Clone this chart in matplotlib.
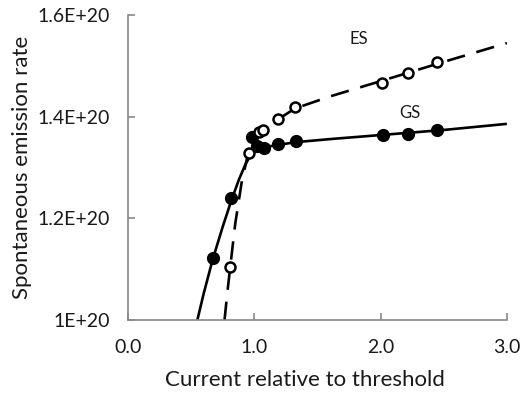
import matplotlib
matplotlib.use("Agg")
import matplotlib.pyplot as plt
from matplotlib.ticker import FixedLocator, FixedFormatter

plt.rcParams['font.family'] = ['Lato', 'DejaVu Sans']

# Data points (x: current relative to threshold, y: rate in units of 1E+20)
gs_x = [0.67, 0.82, 0.98, 1.02, 1.08, 1.19, 1.33, 2.02, 2.22, 2.45]
gs_y = [1.122, 1.240, 1.360, 1.342, 1.339, 1.346, 1.352, 1.364, 1.367, 1.373]
es_x = [0.81, 0.96, 1.04, 1.07, 1.19, 1.32, 2.01, 2.22, 2.45]
es_y = [1.104, 1.329, 1.370, 1.374, 1.396, 1.419, 1.467, 1.486, 1.508]

# Model curves
gs_curve_x = [0.55, 0.60, 0.67, 0.75, 0.82, 0.88, 0.93, 0.97, 1.00, 1.04, 1.10, 1.20, 1.33, 1.6, 2.0, 2.5, 3.0]
gs_curve_y = [1.000, 1.052, 1.118, 1.183, 1.236, 1.277, 1.306, 1.324, 1.333, 1.338, 1.341, 1.345, 1.350, 1.356, 1.364, 1.374, 1.386]
es_curve_x = [0.765, 0.79, 0.81, 0.85, 0.90, 0.94, 0.97, 1.00, 1.04, 1.08, 1.19, 1.32, 1.6, 2.0, 2.5, 3.0]
es_curve_y = [1.000, 1.060, 1.104, 1.190, 1.270, 1.315, 1.340, 1.355, 1.366, 1.374, 1.395, 1.416, 1.440, 1.470, 1.508, 1.545]

x_ticks = [0.0, 1.0, 2.0, 3.0]
x_tick_labels = ["0.0", "1.0", "2.0", "3.0"]
y_ticks = [1.0, 1.2, 1.4, 1.6]
y_tick_labels = ["1E+20", "1.2E+20", "1.4E+20", "1.6E+20"]

fig = plt.figure(figsize=(5.22, 3.98), dpi=100)
ax = fig.add_axes([0.245, 0.196, 0.726, 0.766])

ax.plot(gs_curve_x, gs_curve_y, color='black', lw=1.9, solid_capstyle='butt')
ax.plot(es_curve_x, es_curve_y, color='black', lw=1.9, dashes=(7, 4.5), dash_capstyle='butt')
ax.plot(gs_x, gs_y, 'o', color='black', markersize=8.5, zorder=3)
ax.plot(es_x, es_y, 'o', markerfacecolor='white', markeredgecolor='black',
        markersize=7.2, markeredgewidth=1.8, zorder=4)

ax.text(1.83, 1.553, "ES", fontsize=12, ha='center', va='center', color='#1a1a1a')
ax.text(2.23, 1.407, "GS", fontsize=12, ha='center', va='center', color='#1a1a1a')

ax.set_xlim(0, 3.0)
ax.set_ylim(1.0, 1.6)
ax.xaxis.set_major_locator(FixedLocator(x_ticks))
ax.xaxis.set_major_formatter(FixedFormatter(x_tick_labels))
ax.yaxis.set_major_locator(FixedLocator(y_ticks))
ax.yaxis.set_major_formatter(FixedFormatter(y_tick_labels))

for s in ['top', 'right']:
    ax.spines[s].set_visible(False)
for s in ['left', 'bottom']:
    ax.spines[s].set_color('#888888')
    ax.spines[s].set_linewidth(1.2)
ax.tick_params(direction='in', length=5, width=1.2, color='#888888',
               labelsize=14, labelcolor='#1a1a1a')
ax.tick_params(axis='x', pad=14)
ax.tick_params(axis='y', pad=13)

ax.set_xlabel("Current relative to threshold", fontsize=16, color='#1a1a1a', labelpad=10)
ax.xaxis.label.set_x(0.467)
ax.set_ylabel("Spontaneous emission rate", fontsize=16, color='#1a1a1a', labelpad=4)

fig.savefig("out.png", dpi=100)
